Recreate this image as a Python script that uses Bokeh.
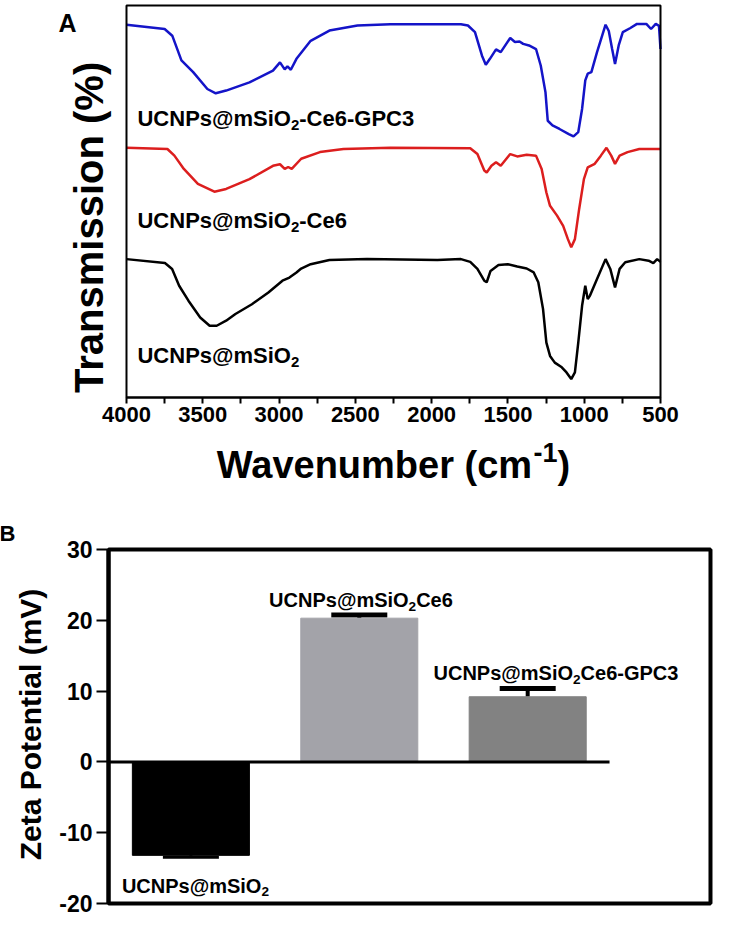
from bokeh.plotting import figure
from bokeh.models import (Range1d, FixedTicker, Label, Whisker, TeeHead, ColumnDataSource,
                          LinearAxis)
from bokeh.embed import file_html
from bokeh.resources import INLINE
import math

FONT = "Liberation Sans"

# ---------------- Panel A data (FTIR spectra, offset traces) ----------------
wn_blue = [4000, 3750, 3700, 3640, 3563, 3470, 3415, 3347, 3194, 3040, 2994, 2963, 2945, 2923, 2886,
           2793, 2670, 2486, 2270, 1808, 1762, 1716, 1670, 1645, 1618, 1578, 1547, 1485, 1454, 1424,
           1400, 1362, 1316, 1285, 1254, 1239, 1208, 1162, 1101, 1070, 1039, 1014, 993, 977, 953,
           916, 860, 839, 817, 798, 774, 747, 700, 654, 593, 562, 531, 510, 500]
t_blue = [95.1, 94, 92.3, 86, 83, 78.7, 77.6, 78.3, 80.4, 83.4, 85.5, 83.7, 84.5, 83.6, 86.4,
          91, 93.6, 94.9, 95.2, 95.2, 94.9, 93.2, 87.2, 84.9, 86.4, 88.8, 88.1, 91.7, 90.7, 90.8,
          90.2, 89.8, 88.9, 84.7, 77.9, 70.6, 69.4, 68.5, 67.2, 66.6, 67.7, 73.6, 80.9, 82.6, 83,
          88.1, 95.1, 93.5, 88.9, 85.1, 89.8, 93.2, 94.2, 95.3, 95.3, 94, 95.3, 94.8, 88.9]

wn_red = [4000, 3732, 3686, 3624, 3532, 3424, 3347, 3194, 3040, 2994, 2963, 2940, 2917, 2855, 2732,
          2578, 2270, 1747, 1700, 1655, 1639, 1608, 1578, 1547, 1485, 1439, 1377, 1316, 1279, 1248,
          1224, 1178, 1138, 1107, 1085, 1061, 1033, 1002, 977, 931, 891, 854, 823, 798, 768,
          716, 639, 578, 500]
t_red = [63.7, 63.4, 61.7, 58.3, 54.5, 52.5, 53.2, 55.7, 59.1, 59.5, 58.3, 58.8, 58.3, 60.9, 62.6,
         63.4, 63.7, 63.6, 62.1, 57.9, 57.4, 59.1, 60, 59.1, 62.1, 61.5, 61.9, 61.7, 58.3, 52.3,
         48.9, 46.4, 43.8, 40.4, 38.3, 40.4, 48.1, 55.7, 58.7, 59.6, 61.7, 63.7, 61.7, 59.6, 61.7,
         62.6, 63.4, 63.4, 63.4]

wn_black = [4000, 3748, 3701, 3655, 3594, 3517, 3455, 3409, 3347, 3286, 3178, 3070, 2978, 2932, 2886,
            2855, 2793, 2670, 2424, 1962, 1808, 1747, 1700, 1655, 1639, 1614, 1562, 1501, 1439, 1377,
            1331, 1301, 1270, 1248, 1224, 1193, 1147, 1116, 1085, 1061, 1039, 1014, 993, 977, 962,
            916, 860, 829, 798, 768, 731, 639, 578, 547, 522, 500]
t_black = [35.3, 34.3, 32.8, 28.5, 24.7, 20.4, 18.3, 18.3, 19.6, 21.3, 23.8, 26.8, 29.8, 30.6, 31.9,
           32.9, 34, 35.1, 35.3, 35.1, 35.3, 34.6, 32.8, 29.8, 29.4, 32.3, 33.8, 34, 33.4, 32.9,
           31.9, 29.4, 22.6, 14, 10.6, 8.9, 7.7, 6.4, 4.7, 6.4, 14, 23.4, 28.5, 25.1, 26,
           30.2, 35.3, 32.8, 28.1, 32.8, 34.5, 35.3, 34.9, 34.3, 35.3, 34.6]

# names: "_2" marks a subscript 2
series_names = ["UCNPs@mSiO_2-Ce6-GPC3", "UCNPs@mSiO_2-Ce6", "UCNPs@mSiO_2"]
series_colors = ["#1414c8", "#dc1e1e", "#000000"]
xticks_A = [4000, 3500, 3000, 2500, 2000, 1500, 1000, 500]
xminor_A = [3750, 3250, 2750, 2250, 1750, 1250, 750]
x_lim_A = (4000, 500)
y_lim_A = (0, 100)

# ---------------- Panel B data (zeta potential) ----------------
zeta_names = ["UCNPs@mSiO_2", "UCNPs@mSiO_2Ce6", "UCNPs@mSiO_2Ce6-GPC3"]
zeta_pos = [1, 2, 3]
zeta_values = [-13.2, 20.3, 9.2]
zeta_err = [0.25, 0.45, 1.15]
zeta_colors = ["#000000", "#a3a3a9", "#828282"]
yticks_B = [-20, -10, 0, 10, 20, 30]
x_lim_B = (0.511, 4.0855)
y_lim_B = (-20, 30)
zero_line_end_B = 3.486

# ---------------- text width helper (Liberation Sans Bold advance widths, em) ----------------
ADV = {"U": .722, "C": .722, "N": .722, "P": .667, "s": .556, "@": .975, "m": .889, "S": .667,
       "i": .278, "O": .778, "2": .556, "-": .333, "e": .556, "6": .556, "G": .778, "3": .556,
       " ": .278, "1": .556, ")": .333, "(": .333, "W": .944, "a": .556, "v": .556, "n": .611,
       "u": .611, "b": .611, "r": .389, "c": .556}
SUB = 0.68


def tw(s, size):
    return sum(ADV.get(ch, .6) for ch in s) * size


def add_rich(p, x, y, name, size, align="left", **rng):
    """Draw a name with '_2' subscripts as several real text pieces."""
    pieces = []
    for k, chunk in enumerate(name.split("_")):
        if k == 0:
            pieces.append((chunk, False))
        else:
            pieces.append((chunk[0], True))
            if chunk[1:]:
                pieces.append((chunk[1:], False))
    widths = [tw(t, size * SUB if sub else size) for t, sub in pieces]
    total = sum(widths)
    off = -total / 2 if align == "center" else 0
    for (t, sub), w in zip(pieces, widths):
        p.add_layout(Label(x=x, y=y, x_offset=off, y_offset=(-0.3 * size if sub else 0), text=t,
                           text_font=FONT, text_font_style="bold",
                           text_font_size=f"{size * SUB if sub else size:.1f}px",
                           text_align="left", text_baseline="alphabetic", text_color="black",
                           **rng))
        off += w


# ================= one figure, frame = whole canvas =================
p = figure(width=719, height=916, x_range=Range1d(4825.8, 113.3), y_range=Range1d(-132.4, 101.276),
           x_axis_location="below", y_axis_location=None, title=None,
           output_backend="svg", toolbar_location=None,
           min_border_left=0, min_border_right=0, min_border_top=0, min_border_bottom=0)
p.extra_x_ranges = {"B": Range1d(-0.1306, 4.139)}
p.extra_y_ranges = {"B": Range1d(-21.836, 107.542)}
p.background_fill_color = "white"
p.border_fill_color = "white"
p.outline_line_color = None
p.grid.visible = False

# ----- Panel A -----
ax = p.xaxis[0]
ax.fixed_location = y_lim_A[0]
ax.bounds = (x_lim_A[1], x_lim_A[0])
ax.ticker = FixedTicker(ticks=xticks_A, minor_ticks=xminor_A)
ax.axis_line_width = 2
ax.major_tick_in = 0
ax.major_tick_out = 6
ax.minor_tick_in = 0
ax.minor_tick_out = 6
ax.major_tick_line_width = 2
ax.minor_tick_line_width = 2
ax.major_label_text_font = FONT
ax.major_label_text_font_style = "bold"
ax.major_label_text_font_size = "22px"
ax.major_label_text_color = "black"
ax.major_label_standoff = 4

for wn, t, c in zip([wn_blue, wn_red, wn_black], [t_blue, t_red, t_black], series_colors):
    p.line(wn, t, line_color=c, line_width=2.5)

p.quad(left=[x_lim_A[0]], right=[x_lim_A[1]], bottom=[y_lim_A[0]], top=[y_lim_A[1]],
       fill_color=None, line_color="black", line_width=2)

label_y_A = [71.2, 45.2, 10.7]
for name, ly in zip(series_names, label_y_A):
    add_rich(p, 3928, ly, name, 22)

p.add_layout(Label(x=4249, y=43.4, text="Transmission (%)", angle=math.pi / 2,
                   text_font=FONT, text_font_style="bold", text_font_size="40px",
                   text_align="center", text_baseline="middle", text_color="black"))

# x-axis title with superscript, centred under the box
t_main, t_sup, t_end = "Wavenumber (cm", "-1", ")"
f_main, f_sup = 38, 27
w_main, w_sup, w_end = tw(t_main, f_main), tw(t_sup, f_sup), tw(t_end, f_main)
start = -(w_main + w_sup + w_end) / 2
xc_A = (x_lim_A[0] + x_lim_A[1]) / 2
for txt, fs, off, yo in [(t_main, f_main, start, 0), (t_sup, f_sup, start + w_main, 13),
                         (t_end, f_main, start + w_main + w_sup, 0)]:
    p.add_layout(Label(x=xc_A, y=-17.3, x_offset=off, y_offset=yo, text=txt, text_font=FONT,
                       text_font_style="bold", text_font_size=f"{fs}px", text_align="left",
                       text_baseline="alphabetic", text_color="black"))

p.add_layout(Label(x=4387, y=95.6, text="A", text_font=FONT, text_font_style="bold",
                   text_font_size="25px", text_align="center", text_baseline="alphabetic",
                   text_color="black"))

# ----- Panel B -----
RB = dict(x_range_name="B", y_range_name="B")
yB = LinearAxis(fixed_location=x_lim_B[0], bounds=y_lim_B, **RB)
yB.ticker = FixedTicker(ticks=yticks_B, minor_ticks=[])
yB.major_label_overrides = {t: str(t) for t in yticks_B}
yB.axis_line_width = 4
yB.major_tick_in = 0
yB.major_tick_out = 12
yB.major_tick_line_width = 2
yB.major_label_text_font = FONT
yB.major_label_text_font_style = "bold"
yB.major_label_text_font_size = "23px"
yB.major_label_text_color = "black"
yB.major_label_standoff = 4
p.add_layout(yB, "left")

src = ColumnDataSource(dict(x=zeta_pos, top=zeta_values, color=zeta_colors))
p.vbar(x="x", top="top", bottom=0, width=0.695, fill_color="color", line_color="color",
       source=src, **RB)

p.segment(x0=[x_lim_B[0]], y0=[0], x1=[zero_line_end_B], y1=[0], line_color="black",
          line_width=3, **RB)

p.quad(left=[x_lim_B[0]], right=[x_lim_B[1]], bottom=[y_lim_B[0]], top=[y_lim_B[1]],
       fill_color=None, line_color="black", line_width=4, **RB)

pos_src = ColumnDataSource(dict(x=[q for q, v in zip(zeta_pos, zeta_values) if v > 0],
                                lower=[v for v in zeta_values if v > 0],
                                upper=[v + e for v, e in zip(zeta_values, zeta_err) if v > 0]))
neg_src = ColumnDataSource(dict(x=[q for q, v in zip(zeta_pos, zeta_values) if v < 0],
                                upper=[v for v in zeta_values if v < 0],
                                lower=[v - e for v, e in zip(zeta_values, zeta_err) if v < 0]))
p.add_layout(Whisker(base="x", upper="upper", lower="lower", source=pos_src, line_width=4,
                     line_color="black",
                     upper_head=TeeHead(size=56, line_width=5, line_color="black"),
                     lower_head=None, **RB))
p.add_layout(Whisker(base="x", upper="upper", lower="lower", source=neg_src, line_width=3,
                     line_color="black",
                     lower_head=TeeHead(size=56, line_width=3, line_color="black"),
                     upper_head=None, **RB))

label_xy_B = [(1.027, -17.46), (2.01, 22.8), (3.168, 12.49)]
for name, (lx, ly) in zip(zeta_names, label_xy_B):
    add_rich(p, lx, ly, name, 20, align="center", **RB)

p.add_layout(Label(x=0.0475, y=5.28, text="Zeta Potential (mV)", angle=math.pi / 2,
                   text_font=FONT, text_font_style="bold", text_font_size="30px",
                   text_align="center", text_baseline="middle", text_color="black", **RB))
p.add_layout(Label(x=-0.089, y=32.19, text="B", text_font=FONT, text_font_style="bold",
                   text_font_size="22px", text_align="center", text_baseline="middle",
                   text_color="black", **RB))

open("out.html", "w").write(file_html(p, INLINE))
